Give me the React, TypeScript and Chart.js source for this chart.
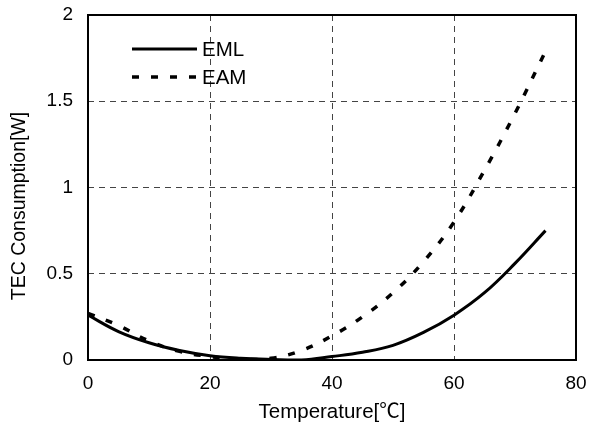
import React, { useEffect, useRef } from 'react';
import { Chart, registerables } from 'chart.js';

Chart.register(...registerables);

const temperatures = [0, 5, 10, 15, 20, 25, 30, 35, 40, 45, 50, 55, 60, 65, 70, 75];
const emlValues = [0.26, 0.165, 0.1, 0.055, 0.025, 0.01, 0.003, 0.0, 0.02, 0.045, 0.085, 0.16, 0.26, 0.39, 0.56, 0.75];
const eamValues = [0.27, 0.2, 0.11, 0.05, 0.02, 0.005, 0.01, 0.055, 0.14, 0.25, 0.39, 0.57, 0.8, 1.1, 1.43, 1.79];
const seriesNames = ['EML', 'EAM'];
const xTickValues = [0, 20, 40, 60, 80];
const yTickValues = [0, 0.5, 1, 1.5, 2];
const xTitle = 'Temperature[℃]';
const yTitle = 'TEC Consumption[W]';

const FONT = '"Liberation Sans", Arial, "Noto Sans CJK JP", sans-serif';
const TICK_SIZE = 19;
const TITLE_SIZE = 20.5;
const Y_TITLE_SIZE = 19.5;

const legendPlugin = {
  id: 'insideLegend',
  afterDraw(chart: any) {
    const ctx = chart.ctx;
    const x0 = 132;
    const x1 = 197;
    const ys = [49, 77];
    chart.data.datasets.forEach((ds: any, i: number) => {
      ctx.save();
      ctx.strokeStyle = ds.borderColor;
      ctx.lineWidth = ds.borderWidth;
      ctx.setLineDash(ds.borderDash || []);
      ctx.beginPath();
      ctx.moveTo(x0, ys[i]);
      ctx.lineTo(x1, ys[i]);
      ctx.stroke();
      ctx.setLineDash([]);
      ctx.fillStyle = '#000';
      ctx.font = `${TITLE_SIZE}px ${FONT}`;
      ctx.textBaseline = 'middle';
      ctx.textAlign = 'left';
      ctx.fillText(ds.label, 202, ys[i] + 1);
      ctx.restore();
    });
  },
};

const yTitlePlugin = {
  id: 'yTitle',
  afterDraw(chart: any) {
    const ctx = chart.ctx;
    ctx.save();
    ctx.translate(20, 206);
    ctx.rotate(-Math.PI / 2);
    ctx.fillStyle = '#000';
    ctx.font = `${Y_TITLE_SIZE}px ${FONT}`;
    ctx.textAlign = 'center';
    ctx.textBaseline = 'middle';
    ctx.fillText(yTitle, 0, 0);
    ctx.restore();
  },
};

const borderPlugin = {
  id: 'plotBorder',
  afterDatasetsDraw(chart: any) {
    const { ctx, chartArea } = chart;
    ctx.save();
    ctx.strokeStyle = '#000';
    ctx.lineWidth = 2;
    ctx.strokeRect(chartArea.left, chartArea.top, chartArea.right - chartArea.left, chartArea.bottom - chartArea.top);
    ctx.restore();
  },
};

export default function App() {
  const ref = useRef<HTMLCanvasElement | null>(null);

  useEffect(() => {
    document.body.style.margin = '0';
    const canvas = ref.current;
    if (!canvas) return;
    const chart = new Chart(canvas, {
      type: 'line',
      data: {
        datasets: [
          {
            label: seriesNames[0],
            data: temperatures.map((t, i) => ({ x: t, y: emlValues[i] })),
            borderColor: '#000',
            borderWidth: 3,
            pointRadius: 0,
            tension: 0.4,
            fill: false,
          },
          {
            label: seriesNames[1],
            data: temperatures.map((t, i) => ({ x: t, y: eamValues[i] })),
            borderColor: '#000',
            borderWidth: 3.5,
            borderDash: [7, 12],
            pointRadius: 0,
            tension: 0.4,
            fill: false,
          },
        ],
      },
      options: {
        animation: false,
        responsive: false,
        maintainAspectRatio: false,
        layout: { padding: { left: 0, right: 16, top: 15, bottom: 0 } },
        plugins: {
          legend: { display: false },
          tooltip: { enabled: false },
        },
        scales: {
          x: {
            type: 'linear',
            min: 0,
            max: 80,
            afterBuildTicks(axis: any) {
              axis.ticks = xTickValues.map((v) => ({ value: v }));
            },
            afterFit(axis: any) {
              axis.height = 74;
              axis.paddingLeft = 0;
              axis.paddingRight = 0;
            },
            grid: {
              drawTicks: false,
              color: (c: any) => (c.tick && (c.tick.value === 0 || c.tick.value === 80) ? 'rgba(0,0,0,0)' : '#444'),
              lineWidth: 1,
            },
            border: { display: false, dash: [6, 5] },
            ticks: {
              color: '#000',
              font: { family: FONT, size: TICK_SIZE },
              padding: 12,
              maxRotation: 0,
              callback: (v: any) => String(v),
            },
            title: {
              display: true,
              text: xTitle,
              color: '#000',
              font: { family: FONT, size: TITLE_SIZE },
              padding: { top: 0, bottom: 9 },
            },
          },
          y: {
            type: 'linear',
            min: 0,
            max: 2,
            afterBuildTicks(axis: any) {
              axis.ticks = yTickValues.map((v) => ({ value: v }));
            },
            afterFit(axis: any) {
              axis.width = 88;
              axis.paddingTop = 0;
              axis.paddingBottom = 0;
            },
            grid: {
              drawTicks: false,
              color: (c: any) => (c.tick && (c.tick.value === 0 || c.tick.value === 2) ? 'rgba(0,0,0,0)' : '#444'),
              lineWidth: 1,
            },
            border: { display: false, dash: [6, 5] },
            ticks: {
              color: '#000',
              font: { family: FONT, size: TICK_SIZE },
              padding: 15,
              callback: (v: any) => String(v),
            },
            title: { display: false },
          },
        },
      },
      plugins: [legendPlugin, yTitlePlugin, borderPlugin],
    } as any);
    return () => chart.destroy();
  }, []);

  return <canvas ref={ref} width={592} height={434} style={{ display: 'block', width: 592, height: 434 }} />;
}
